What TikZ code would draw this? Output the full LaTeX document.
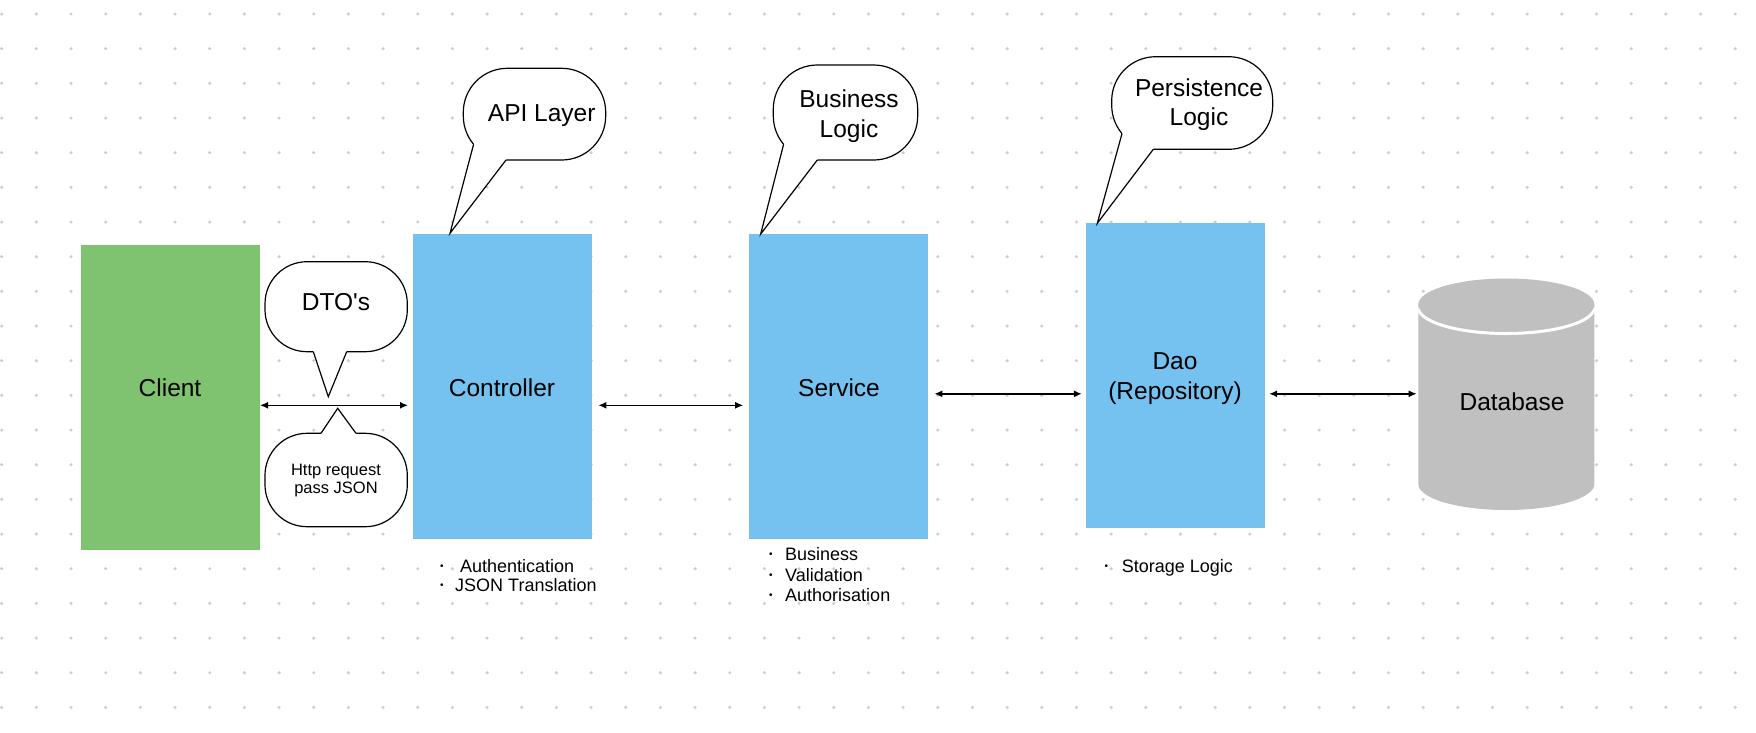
\documentclass[tikz,border=0pt]{standalone}
\usepackage{fontspec}
\setmainfont{Liberation Sans}
\usetikzlibrary{arrows.meta}
\definecolor{clientgreen}{RGB}{127,194,111}
\definecolor{layerblue}{RGB}{117,194,240}
\definecolor{dbgray}{RGB}{192,192,192}
\definecolor{dotgray}{RGB}{205,205,205}
\newcommand\bul{\raisebox{3pt}{\fontsize{10}{10}\selectfont •}}
\begin{document}
\begin{tikzpicture}[x=1pt,y=-1pt,
  layerbox/.style={fill=layerblue, draw=none, minimum width=179pt, minimum height=305pt, inner sep=0pt},
  clientbox/.style={layerbox, fill=clientgreen},
  bigtext/.style={font=\fontsize{24.5}{29.5}\selectfont, align=center, inner sep=0pt},
  smalltext/.style={font=\fontsize{16.5}{18.3}\selectfont, align=center, inner sep=0pt},
  itemtext/.style={font=\fontsize{18}{20}\selectfont, anchor=base west, inner sep=0pt},
  bubble/.style={draw=black, fill=white, line width=1.2pt},
  tailline/.style={draw=black, line width=1.2pt, line join=miter},
  dbl/.style={{Latex[length=8pt,width=7pt]}-{Latex[length=8pt,width=7pt]}, line width=1.4pt},
]
\fill[white] (0,0) rectangle (1756,732);
\useasboundingbox (0,0) rectangle (1756,732);
\foreach \i in {0,...,50}{\foreach \j in {0,...,20}{\fill[dotgray] (1.7+34.67*\i,14+34.67*\j) circle[radius=1.7];}}

% layer boxes
\node[clientbox] (client) at (170.3,397.5) {};
\node[layerbox] (ctrl) at (502.2,386.5) {};
\node[layerbox] (svc) at (838.9,386.5) {};
\node[layerbox] (dao) at (1175.5,375.2) {};

\node[bigtext] (clientlbl) at (170,387.5) {Client};
\node[bigtext] (ctrllbl) at (502,387.5) {Controller};
\node[bigtext] (svclbl) at (839,387.5) {Service};
\node[bigtext] (daolbl) at (1175,378.7) {Dao\\(Repository)};

% database cylinder
\node[minimum width=176pt, minimum height=232pt, inner sep=0pt] (dbshape) at (1506.3,394.2) {};
\fill[dbgray] (1418.3,304.5) -- (1418.3,484) arc[start angle=180, end angle=0, x radius=88, y radius=26] -- (1594.3,304.5) -- cycle;
\draw[white, line width=3pt] (1418.3,307.5) arc[start angle=180, end angle=0, x radius=88, y radius=26];
\fill[dbgray] (1506.3,304.5) ellipse[x radius=88, y radius=26];
\node[bigtext] (dblbl) at (1512,401.7) {Database};

% bubbles
\draw[bubble, rounded corners=44pt] (463.3,68.3) rectangle (605.7,160);
\fill[white] (473.6,144.3) -- (450,233.3) -- (506,160) -- (506,156) -- (477.6,141.3) -- cycle;
\draw[tailline] (473.6,144.3) -- (450,233.3) -- (506,160);
\node[bigtext] (apilbl) at (541.7,115.8) {API Layer};

\draw[bubble, rounded corners=44pt] (773.3,65) rectangle (917.7,160);
\fill[white] (783.6,144.3) -- (760.7,234) -- (817.3,160) -- (817.3,156) -- (787.6,141.3) -- cycle;
\draw[tailline] (783.6,144.3) -- (760.7,234) -- (817.3,160);
\node[bigtext] (buslbl) at (849,116) {Business\\Logic};

\draw[bubble, rounded corners=44pt] (1111.7,56.7) rectangle (1272.7,149.3);
\fill[white] (1122,133.6) -- (1097.3,223.3) -- (1153.3,149.3) -- (1153.3,145.3) -- (1126,130.6) -- cycle;
\draw[tailline] (1122,133.6) -- (1097.3,223.3) -- (1153.3,149.3);
\node[bigtext] (perslbl) at (1199,104.5) {Persistence\\Logic};

\draw[bubble, rounded corners=42pt] (265,261.7) rectangle (407.3,351.7);
\fill[white] (313.3,351.7) -- (328.3,396.7) -- (346.7,351.7) -- (346.7,347) -- (313.3,347) -- cycle;
\draw[tailline] (313.3,351.7) -- (328.3,396.7) -- (346.7,351.7);
\node[bigtext] (dtolbl) at (336,301.7) {DTO\textquotesingle s};

\draw[bubble, rounded corners=42pt] (265,433.3) rectangle (407.3,526.7);
\fill[white] (321,433.3) -- (337.7,408.3) -- (356,433.3) -- (356,438) -- (321,438) -- cycle;
\draw[tailline] (321,433.3) -- (337.7,408.3) -- (356,433.3);
\node[smalltext] (httplbl) at (336,480.5) {Http request\\pass JSON};

% connectors
\coordinate (rowa) at (0,405.3);
\coordinate (rowb) at (0,393.8);
\draw[dbl, shorten >=4.5pt] (client.east |- rowa) -- (ctrl.west |- rowa);
\draw[dbl, shorten <=6.5pt, shorten >=6pt] (ctrl.east |- rowa) -- (svc.west |- rowa);
\draw[dbl, shorten <=5.8pt, shorten >=4pt] (svc.east |- rowb) -- (dao.west |- rowb);
\draw[dbl, shorten <=4pt, shorten >=1.5pt] (dao.east |- rowb) -- (dbshape.west |- rowb);

% bullet lists
\node[itemtext] (it1) at (440,572.5) {\bul\hspace{16.3pt}Authentication};
\node[itemtext] (it2) at (440,591.5) {\bul\hspace{11.5pt}JSON Translation};
\node[itemtext] (it3) at (769,560.5) {\bul\hspace{12.5pt}Business};
\node[itemtext] (it4) at (769,581.5) {\bul\hspace{12.5pt}Validation};
\node[itemtext] (it5) at (769,601.5) {\bul\hspace{12.5pt}Authorisation};
\node[itemtext] (it6) at (1104.3,572.5) {\bul\hspace{13.9pt}Storage Logic};
\end{tikzpicture}
\end{document}
